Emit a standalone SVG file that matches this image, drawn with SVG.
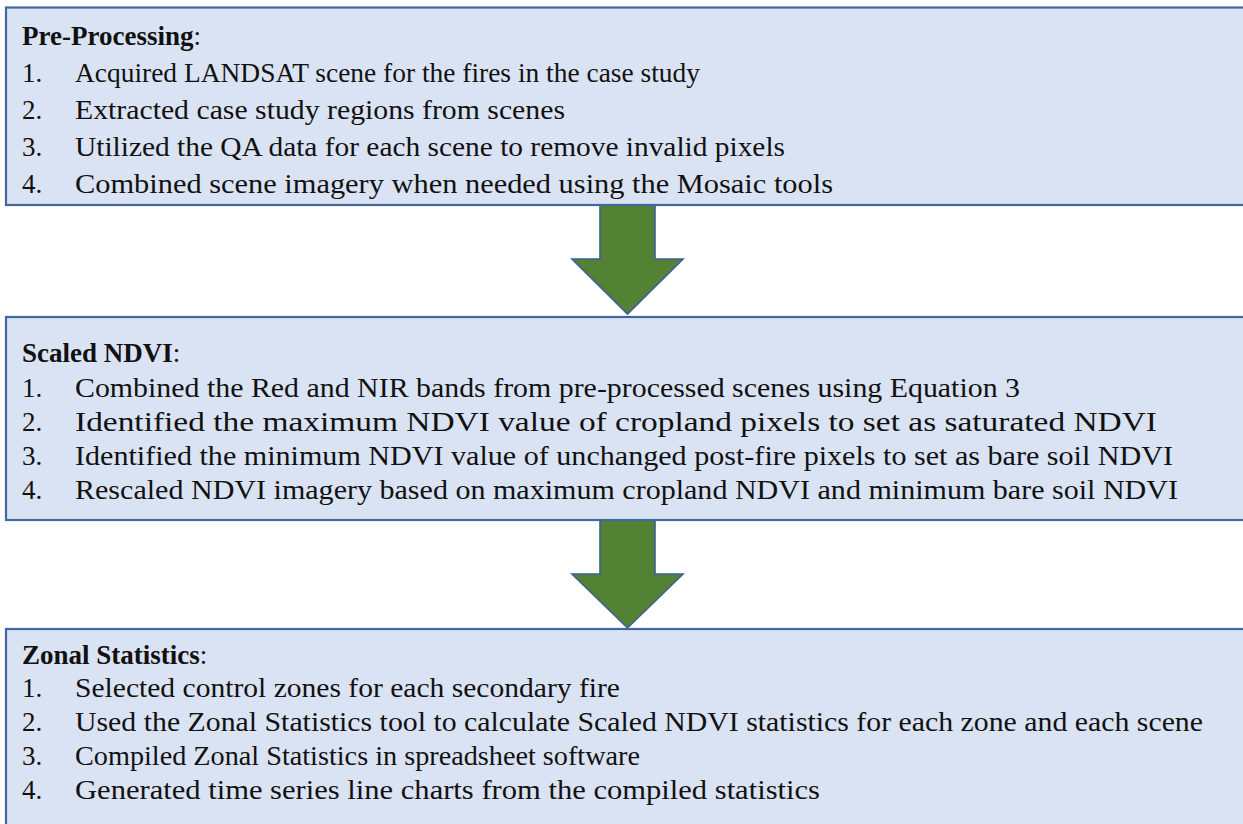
<svg xmlns="http://www.w3.org/2000/svg" width="1243" height="824" viewBox="0 0 1243 824">
<style>
.box{fill:#DAE3F3;stroke:#41679E;stroke-width:2.2}
.arr{fill:#548235;stroke:#3E5F95;stroke-width:1.6;stroke-linejoin:miter}
text{font-family:"Liberation Serif","DejaVu Serif",serif;font-size:27px;fill:#111}
.t{font-weight:bold}
</style>
<rect width="1243" height="824" fill="#fff"/>
<g id="connectors">
<path class="arr" d="M600,205 L655,205 L655,259 L683,259 L627.5,314 L572,259 L600,259 Z"/>
<path class="arr" d="M600,520 L655,520 L655,574 L683,574 L627.5,628 L572,574 L600,574 Z"/>
</g>
<g id="pre-processing">
<rect class="box" x="6" y="7.5" width="1260" height="197.5"/>
<text x="22" y="45"><tspan class="t">Pre-Processing</tspan>:</text>
<text x="22" y="82">1.</text><text x="75" y="82" textLength="625" lengthAdjust="spacingAndGlyphs">Acquired LANDSAT scene for the fires in the case study</text>
<text x="22" y="119">2.</text><text x="75" y="119" textLength="490" lengthAdjust="spacingAndGlyphs">Extracted case study regions from scenes</text>
<text x="22" y="156">3.</text><text x="75" y="156" textLength="710" lengthAdjust="spacingAndGlyphs">Utilized the QA data for each scene to remove invalid pixels</text>
<text x="22" y="193">4.</text><text x="75" y="193" textLength="758" lengthAdjust="spacingAndGlyphs">Combined scene imagery when needed using the Mosaic tools</text>
</g>
<g id="scaled-ndvi">
<rect class="box" x="6" y="317" width="1260" height="203"/>
<text x="22" y="362"><tspan class="t">Scaled NDVI</tspan>:</text>
<text x="22" y="397">1.</text><text x="75" y="397" textLength="945" lengthAdjust="spacingAndGlyphs">Combined the Red and NIR bands from pre-processed scenes using Equation 3</text>
<text x="22" y="431">2.</text><text x="75" y="431" textLength="1082" lengthAdjust="spacingAndGlyphs">Identified the maximum NDVI value of cropland pixels to set as saturated NDVI</text>
<text x="22" y="465">3.</text><text x="75" y="465" textLength="1098" lengthAdjust="spacingAndGlyphs">Identified the minimum NDVI value of unchanged post-fire pixels to set as bare soil NDVI</text>
<text x="22" y="499">4.</text><text x="75" y="499" textLength="1103" lengthAdjust="spacingAndGlyphs">Rescaled NDVI imagery based on maximum cropland NDVI and minimum bare soil NDVI</text>
</g>
<g id="zonal-statistics">
<rect class="box" x="6" y="629" width="1260" height="220"/>
<text x="22" y="664"><tspan class="t">Zonal Statistics</tspan>:</text>
<text x="22" y="697">1.</text><text x="75" y="697" textLength="545" lengthAdjust="spacingAndGlyphs">Selected control zones for each secondary fire</text>
<text x="22" y="731">2.</text><text x="75" y="731" textLength="1128" lengthAdjust="spacingAndGlyphs">Used the Zonal Statistics tool to calculate Scaled NDVI statistics for each zone and each scene</text>
<text x="22" y="765">3.</text><text x="75" y="765" textLength="565" lengthAdjust="spacingAndGlyphs">Compiled Zonal Statistics in spreadsheet software</text>
<text x="22" y="799">4.</text><text x="75" y="799" textLength="745" lengthAdjust="spacingAndGlyphs">Generated time series line charts from the compiled statistics</text>
</g>
</svg>
